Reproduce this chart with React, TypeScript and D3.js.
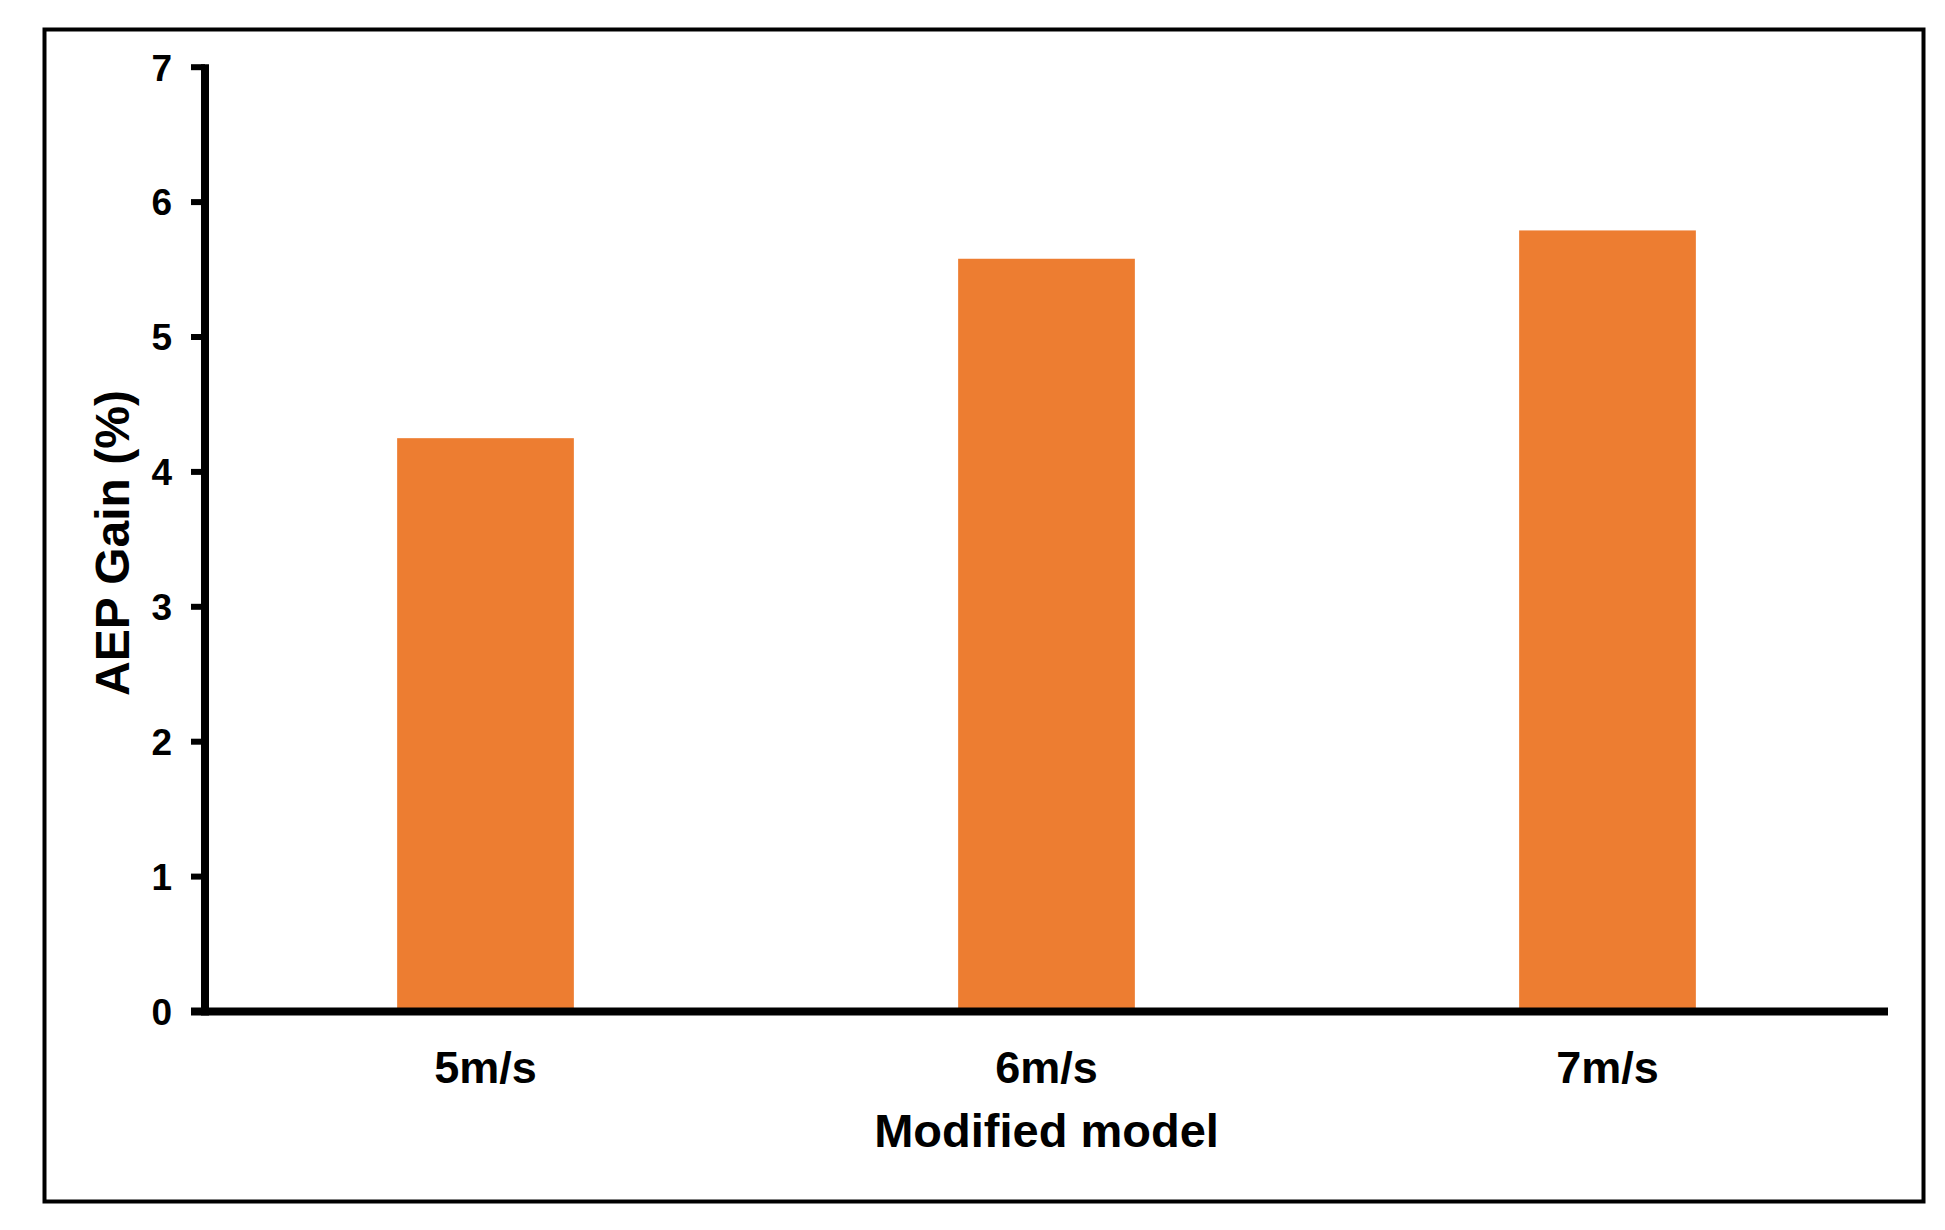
import React from "react";
import * as d3 from "d3";

const categories = ["5m/s", "6m/s", "7m/s"];
const gainValues = [4.25, 5.58, 5.79];
const yTicks = [0, 1, 2, 3, 4, 5, 6, 7];
const xTitle = "Modified model";
const yTitle = "AEP Gain (%)";

const W = 1945;
const H = 1230;
const FONT = "'Liberation Sans', Arial, Helvetica, sans-serif";

export default function App() {
  const x = d3
    .scaleBand<string>()
    .domain(categories)
    .range([205, 1888])
    .paddingInner(0.685)
    .paddingOuter(0.3425);
  const y = d3.scaleLinear().domain([0, 7]).range([1011.5, 67.2]);

  return (
    <svg
      width={W}
      height={H}
      style={{ position: "absolute", left: 0, top: 0, background: "#fff" }}
      fontFamily={FONT}
    >
      <rect x={0} y={0} width={W} height={H} fill="#fff" />
      <rect x={44.5} y={29.5} width={1923.5 - 44.5} height={1201.5 - 29.5} fill="none" stroke="#000" strokeWidth={4} />

      {categories.map((c, i) => (
        <rect
          key={c}
          x={x(c)}
          y={y(gainValues[i])}
          width={x.bandwidth()}
          height={y(0) - y(gainValues[i])}
          fill="#ED7D31"
        />
      ))}

      {/* y axis */}
      <line x1={205} x2={205} y1={y(7) - 3} y2={y(0) + 4} stroke="#000" strokeWidth={8} />
      {yTicks.map((t) => (
        <g key={t}>
          <line x1={191} x2={205} y1={y(t)} y2={y(t)} stroke="#000" strokeWidth={6} />
          <text
            x={172}
            y={y(t)}
            dy="0.36em"
            textAnchor="end"
            fontSize={37}
            fontWeight="bold"
            fill="#000"
          >
            {t}
          </text>
        </g>
      ))}

      {/* x axis */}
      <line x1={191} x2={1888} y1={y(0)} y2={y(0)} stroke="#000" strokeWidth={8} />
      {categories.map((c) => (
        <text
          key={c}
          x={(x(c) ?? 0) + x.bandwidth() / 2}
          y={1083}
          textAnchor="middle"
          fontSize={45}
          fontWeight="bold"
          fill="#000"
        >
          {c}
        </text>
      ))}

      <text x={1046.5} y={1147} textAnchor="middle" fontSize={47} fontWeight="bold" fill="#000">
        {xTitle}
      </text>
      <text
        transform={`translate(129, 543) rotate(-90)`}
        textAnchor="middle"
        fontSize={48}
        fontWeight="bold"
        fill="#000"
      >
        {yTitle}
      </text>
    </svg>
  );
}
